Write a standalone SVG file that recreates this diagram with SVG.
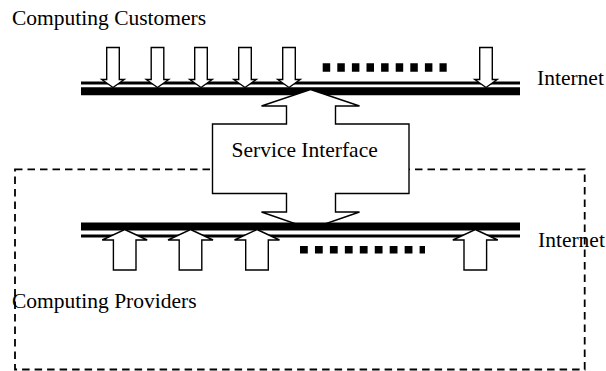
<svg xmlns="http://www.w3.org/2000/svg" width="606" height="371" viewBox="0 0 606 371">
  <style>
    .lbl { font-family: "Liberation Serif", "Times New Roman", serif; font-size: 21.5px; fill: #000; }
    .arrow { fill: #fff; stroke: #000; stroke-width: 1.4; stroke-linejoin: miter; }
    .bus-thin { stroke: #000; stroke-width: 2.8; }
    .bus-thick { stroke: #000; stroke-width: 8; }
    .dots { stroke: #000; stroke-width: 8.5; stroke-dasharray: 7.5 7.1; }
  </style>
  <defs>
    <!-- small downward customer arrow, tip at origin -->
    <path id="downArrow" class="arrow" d="M0,0 L11.2,-8 L6.3,-8 L6.3,-40 L-6.3,-40 L-6.3,-8 L-11.2,-8 Z"/>
    <!-- wide upward provider arrow, tip at origin -->
    <path id="upArrow" class="arrow" d="M0,0 L22.5,10.5 L11.3,10.5 L11.3,40.5 L-11.3,40.5 L-11.3,10.5 L-22.5,10.5 Z"/>
  </defs>

  <rect width="606" height="371" fill="#fff"/>

  <!-- provider domain boundary -->
  <g id="provider-domain">
    <rect x="15" y="169.3" width="569.7" height="200.2" fill="none" stroke="#000" stroke-width="1.8" stroke-dasharray="7.5 5"/>
  </g>

  <!-- customer-side internet bus -->
  <g id="internet-top">
    <line class="bus-thin" x1="81" y1="83" x2="520" y2="83"/>
    <line class="bus-thick" x1="81" y1="91.2" x2="520" y2="91.2"/>
    <line class="dots" x1="322.7" y1="67.5" x2="446.7" y2="67.5"/>
    <text class="lbl" x="537" y="85">Internet</text>
  </g>

  <g id="customers">
    <text class="lbl" x="12" y="25">Computing Customers</text>
  </g>

  <g id="connectors">
    <use href="#downArrow" x="113" y="87.5"/>
    <use href="#downArrow" x="157.5" y="87.5"/>
    <use href="#downArrow" x="201" y="87.5"/>
    <use href="#downArrow" x="245" y="87.5"/>
    <use href="#downArrow" x="289" y="87.5"/>
    <use href="#downArrow" x="486" y="87.5"/>
  </g>

  <!-- service interface: box with up/down arrows -->
  <g id="service-interface">
    <path class="arrow" d="M310.5,89.5 L359.5,106 L335.5,106 L335.5,124 L409,124 L409,193.5 L335.5,193.5 L335.5,212 L359.5,212 L310.5,229 L261.5,212 L286.5,212 L286.5,193.5 L212.5,193.5 L212.5,124 L286.5,124 L286.5,106 L261.5,106 Z"/>
    <text class="lbl" x="231.5" y="156.5">Service Interface</text>
  </g>

  <!-- provider-side internet bus -->
  <g id="internet-bottom">
    <line class="bus-thick" x1="81" y1="226.5" x2="520" y2="226.5"/>
    <line class="bus-thin" x1="81" y1="236" x2="520" y2="236"/>
    <line class="dots" x1="300" y1="249.7" x2="425" y2="249.7" style="stroke-width:7.5;stroke-dasharray:7.8 7.15"/>
    <text class="lbl" x="538" y="246.5">Internet</text>
  </g>

  <g id="provider-arrows">
    <use href="#upArrow" x="124.7" y="229.5"/>
    <use href="#upArrow" x="190.5" y="229.5"/>
    <use href="#upArrow" x="257" y="229.5"/>
    <use href="#upArrow" x="475.3" y="229.5"/>
  </g>

  <g id="providers">
    <text class="lbl" x="12" y="308">Computing Providers</text>
  </g>
</svg>
